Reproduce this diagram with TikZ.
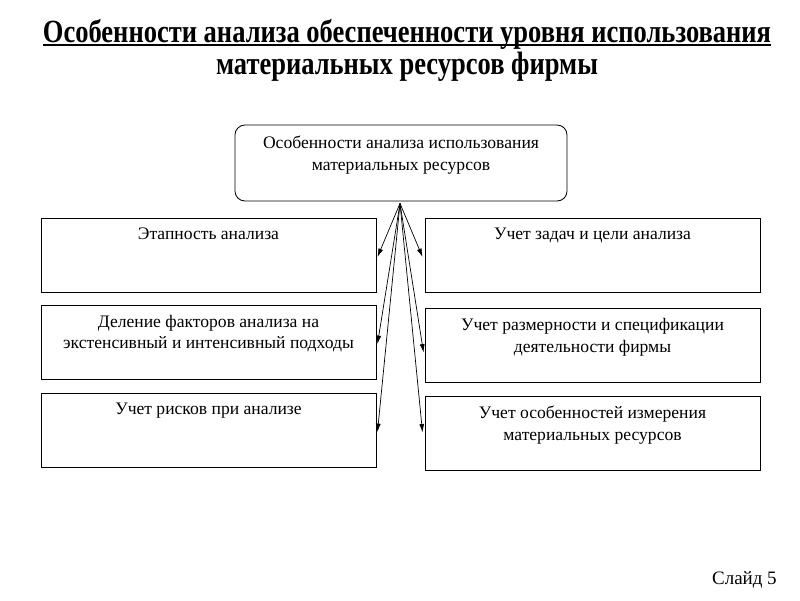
\documentclass[tikz,border=0pt]{standalone}
\usepackage{fontspec}
\setmainfont{Liberation Serif}
\usetikzlibrary{calc,positioning,arrows.meta}

\begin{document}
\begin{tikzpicture}[x=0.025cm,y=-0.025cm,
	boite/.style={draw, line width=0.6pt, minimum width=8.375cm, minimum height=1.85cm, inner sep=0pt},
	texte/.style={anchor=north, align=center, inner sep=0pt, font=\fontsize{12.5}{15.6}\selectfont},
	titre/.style={anchor=base, inner sep=0pt, font=\bfseries\fontsize{23}{28}\selectfont},
	fleche/.style={line width=0.5pt, -{Latex[length=6pt,width=3.5pt]}}]

%%%%%%%%%%%%%%%%%%%%%%
%%%	   Cadre        %%%
%%%%%%%%%%%%%%%%%%%%%%

\useasboundingbox (0,0) rectangle (800,600);

%%%%%%%%%%%%%%%%%%%%%%
%%%	   Titre        %%%
%%%%%%%%%%%%%%%%%%%%%%

\node[titre] (titreA) at (407,42)
	{\scalebox{0.82}[1]{Особенности анализа обеспеченности уровня использования}};
\node[titre] (titreB) at (407,74)
	{\scalebox{0.82}[1]{материальных ресурсов фирмы}};

% Soulignement de la premiere ligne
\draw[line width=0.8pt] ($(titreA.base west)+(0,3)$) -- ($(titreA.base east)+(0,3)$);

%%%%%%%%%%%%%%%%%%%%%%
%%%	   Boites       %%%
%%%%%%%%%%%%%%%%%%%%%%

% Boite du haut
\node[boite, rounded corners=0.25cm, minimum width=8.3cm, minimum height=1.9cm] (haut) at (401,163) {};
\node[texte] at ($(haut.north)+(0,11)$) {Особенности анализа использования\\материальных ресурсов};

% Colonne de gauche
\node[boite] (g1) at (208.5,255) {};
\node[boite] (g2) at (208.5,342) {};
\node[boite] (g3) at (208.5,430) {};

\node[texte] at ($(g1.north)+(0,10)$) {Этапность анализа};
\node[texte] at ($(g2.north)+(0,10)$) {Деление факторов анализа на\\экстенсивный и интенсивный подходы};
\node[texte] at ($(g3.north)+(0,10)$) {Учет рисков при анализе};

% Colonne de droite
\node[boite] (d1) at (592.5,255) {};
\node[boite] (d2) at (592.5,345.5) {};
\node[boite] (d3) at (592.5,433.5) {};

\node[texte] at ($(d1.north)+(0,10)$) {Учет задач и цели анализа};
\node[texte] at ($(d2.north)+(0,10)$) {Учет размерности и спецификации\\деятельности фирмы};
\node[texte] at ($(d3.north)+(0,10)$) {Учет особенностей измерения\\материальных ресурсов};

%%%%%%%%%%%%%%%%%%%%%%
%%%	   Fleches      %%%
%%%%%%%%%%%%%%%%%%%%%%

\coordinate (src) at ($(haut.south)+(-1,2)$);
\foreach \cible in {g1,g2,g3}
	\draw[fleche] (src) -- ($(\cible.east)+(1,2)$);
\draw[fleche] (src) -- ($(d1.west)+(-2,2)$);
\draw[fleche] (src) -- ($(d2.west)+(-1,7)$);
\draw[fleche] (src) -- ($(d3.west)+(-2,-1)$);

% Numero de la diapositive
\node[anchor=base east, inner sep=0pt, font=\fontsize{13.5}{15}\selectfont] (slide) at (777,584) {Слайд 5};

\end{tikzpicture}
\end{document}
